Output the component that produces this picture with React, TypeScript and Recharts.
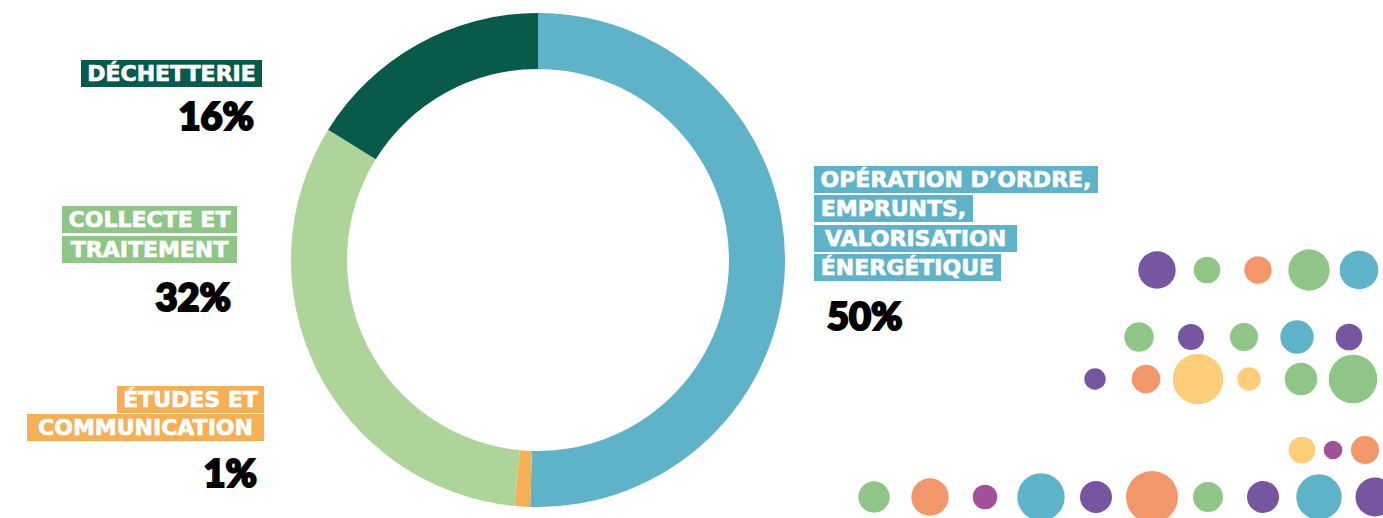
import { Cell, Pie, PieChart, Scatter, ScatterChart, XAxis, YAxis } from "recharts";

// Répartition des dépenses — anneau + pastilles décoratives.

const categories = [
  "Opération d’ordre, emprunts, valorisation énergétique",
  "Études et communication",
  "Collecte et traitement",
  "Déchetterie",
];
const shares = [50, 1, 32, 16];
const labelLines = [
  ["OPÉRATION D’ORDRE,", "EMPRUNTS,", "VALORISATION", "ÉNERGÉTIQUE"],
  ["ÉTUDES ET", "COMMUNICATION"],
  ["COLLECTE ET", "TRAITEMENT"],
  ["DÉCHETTERIE"],
];

// pastilles décoratives (coordonnées dans le repère de la page)
const bubbleX = [
  1157, 1207, 1258, 1309, 1359,
  1139, 1191, 1244, 1297, 1349,
  1095, 1146, 1198, 1249, 1301, 1353,
  1302, 1333, 1365,
  874, 930, 985, 1041, 1096, 1152, 1208, 1263, 1319, 1375,
];
const bubbleY = [
  270, 270, 270, 270, 270,
  337, 337, 337, 337, 337,
  379, 379, 379, 379, 379, 379,
  450, 450, 450,
  497, 497, 497, 497, 497, 497, 497, 497, 497, 497,
];
const bubbleSize = [
  18.7, 13.3, 13.7, 20.7, 19.3,
  14.7, 13, 14, 16.7, 13.3,
  10.7, 14.3, 25.3, 11.7, 16.3, 24.3,
  13.3, 9.3, 14,
  15.7, 18.7, 12.3, 23.7, 16, 26, 15, 16, 22.7, 19.5,
];
const bubbleTone = [
  "purple", "green", "orange", "green", "blue",
  "green", "purple", "green", "blue", "purple",
  "purple", "orange", "yellow", "yellow", "green", "green",
  "yellow", "magenta", "orange",
  "green", "orange", "magenta", "blue", "purple", "orange", "green", "purple", "blue", "purple",
];

const W = 1383;
const H = 518;

const RING_COLORS = ["#5EB3C8", "#F5AF55", "#AED49A", "#085A4A"];
const TAG_COLORS = ["#5EB3C8", "#F5AF55", "#8FC587", "#085A4A"];
const TONES: Record<string, string> = {
  purple: "#7656A0",
  green: "#8FC587",
  orange: "#F2976A",
  blue: "#5EB3C8",
  yellow: "#FDCD7A",
  magenta: "#A0519A",
};

// mise en page des étiquettes : x d'ancrage, haut, alignement, largeur des cartouches
const TAG_LAYOUT = [
  { x: 814, top: 166, align: "left", widths: [284, 159, 203, 187], pitch: 29.3 },
  { x: 264, top: 386, align: "right", widths: [147, 237], pitch: 27.5 },
  { x: 237, top: 206, align: "right", widths: [175, 175], pitch: 30 },
  { x: 262, top: 60, align: "right", widths: [181], pitch: 29 },
];
const PCT_LAYOUT = [
  { x: 826, top: 303, align: "left" },
  { x: 258, top: 460, align: "right" },
  { x: 232, top: 284, align: "right" },
  { x: 255, top: 103, align: "right" },
];

const slices = categories.map((name, i) => ({ name, value: shares[i] }));
const bubbles = bubbleX.map((x, i) => ({
  x,
  y: bubbleY[i],
  z: bubbleSize[i],
  tone: bubbleTone[i],
}));

function Bubble(props: any) {
  const { cx, cy, payload } = props;
  return <circle cx={cx} cy={cy} r={payload.z} fill={TONES[payload.tone]} />;
}

export default function App() {
  return (
    <div style={{ position: "relative", width: W, height: H, overflow: "hidden", background: "#fff" }}>
      <style>{`body{margin:0}`}</style>

      <div style={{ position: "absolute", left: 0, top: 0 }}>
        <PieChart width={W} height={H} margin={{ top: 0, right: 0, bottom: 0, left: 0 }}>
          <Pie
            data={slices}
            dataKey="value"
            nameKey="name"
            cx={538}
            cy={260}
            innerRadius={191}
            outerRadius={247}
            startAngle={90}
            endAngle={-270}
            stroke="none"
            isAnimationActive={false}
          >
            {slices.map((s, i) => (
              <Cell key={s.name} fill={RING_COLORS[i]} />
            ))}
          </Pie>
        </PieChart>
      </div>

      <div style={{ position: "absolute", left: 0, top: 0 }}>
        <ScatterChart width={W} height={H} margin={{ top: 0, right: 0, bottom: 0, left: 0 }}>
          <XAxis type="number" dataKey="x" domain={[0, W]} hide />
          <YAxis type="number" dataKey="y" domain={[0, H]} reversed hide />
          <Scatter data={bubbles} shape={Bubble} isAnimationActive={false} />
        </ScatterChart>
      </div>

      {TAG_LAYOUT.map((lay, i) =>
        labelLines[i].map((line, j) => {
          const w = lay.widths[j];
          const left = lay.align === "left" ? lay.x : lay.x - w;
          return (
            <div
              key={`${i}-${j}`}
              style={{
                position: "absolute",
                left,
                top: lay.top + j * lay.pitch,
                width: w,
                height: 27,
                lineHeight: "27px",
                background: TAG_COLORS[i],
                color: "#fff",
                fontFamily: "'DejaVu Sans', sans-serif",
                fontWeight: 700,
                fontSize: 22,
                textAlign: "center",
                whiteSpace: "nowrap",
                WebkitTextStroke: "0.7px #fff",
              }}
            >
              {line}
            </div>
          );
        })
      )}

      {PCT_LAYOUT.map((lay, i) => (
        <div
          key={`p${i}`}
          style={{
            position: "absolute",
            top: lay.top - 7,
            ...(lay.align === "left" ? { left: lay.x + 1 } : { right: W - lay.x + 1 }),
            fontFamily: "Lato, 'DejaVu Sans', sans-serif",
            fontWeight: 900,
            fontSize: 38,
            lineHeight: "38px",
            color: "#000",
            WebkitTextStroke: "2.2px #000",
            whiteSpace: "nowrap",
          }}
        >
          {shares[i]}%
        </div>
      ))}
    </div>
  );
}
